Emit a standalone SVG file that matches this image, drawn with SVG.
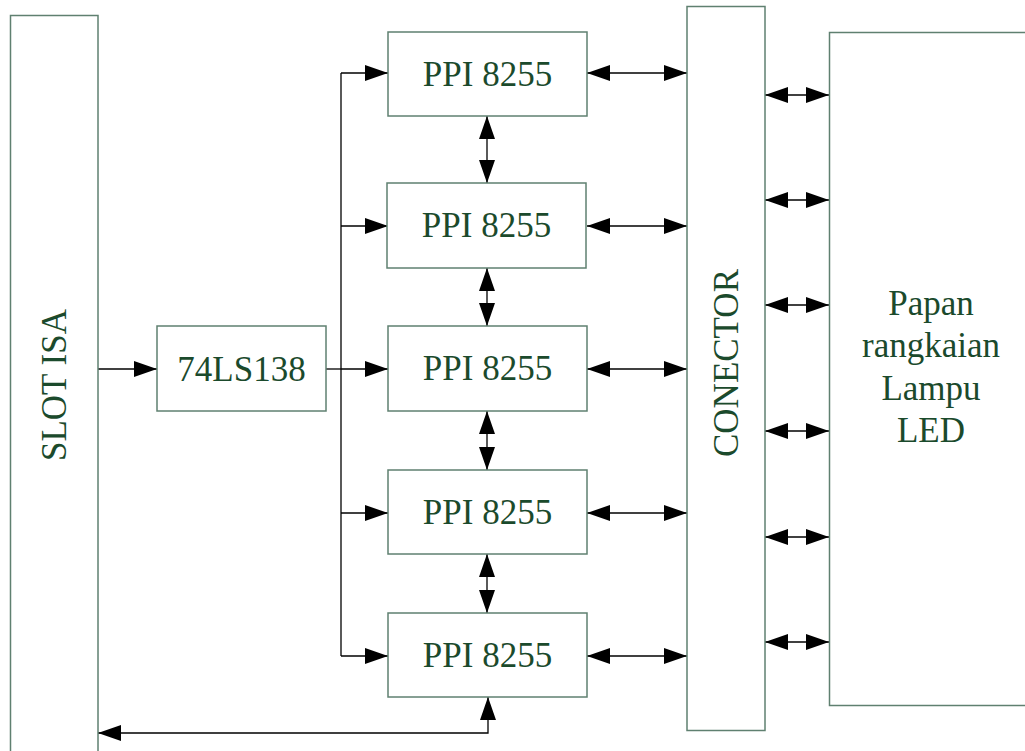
<svg xmlns="http://www.w3.org/2000/svg" width="1025" height="751" viewBox="0 0 1025 751">
<style>
.box{fill:#fff;stroke:#5f8070;stroke-width:1.5}
.t{font-family:"Liberation Serif","Times New Roman",serif;font-size:35px;fill:#1b4a2c;text-anchor:middle}
.c{fill:none;stroke:#000;stroke-width:1.3}
.a1{marker-end:url(#ah)}
.a2{marker-start:url(#ah);marker-end:url(#ah)}
</style>
<defs>
<marker id="ah" markerUnits="userSpaceOnUse" markerWidth="24" markerHeight="16" refX="23" refY="8" orient="auto-start-reverse" viewBox="0 0 24 16">
<path d="M0,0 L23,8 L0,16 z" fill="#000"/>
</marker>
</defs>
<rect width="1025" height="751" fill="#fff"/>
<g id="connectors">
<line class="c a1" x1="98" y1="369" x2="157" y2="369"/>
<polyline class="c" points="326,369 341,369"/>
<line class="c" x1="341" y1="73" x2="341" y2="656"/>
<line class="c a1" x1="341" y1="73" x2="388" y2="73"/>
<line class="c a1" x1="341" y1="226" x2="388" y2="226"/>
<line class="c a1" x1="341" y1="369" x2="388" y2="369"/>
<line class="c a1" x1="341" y1="513" x2="388" y2="513"/>
<line class="c a1" x1="341" y1="656" x2="388" y2="656"/>
<line class="c a2" x1="487" y1="116" x2="487" y2="183"/>
<line class="c a2" x1="487" y1="268" x2="487" y2="326"/>
<line class="c a2" x1="487" y1="411" x2="487" y2="470"/>
<line class="c a2" x1="487" y1="554" x2="487" y2="613"/>
<line class="c a2" x1="587" y1="73" x2="687" y2="73"/>
<line class="c a2" x1="587" y1="226" x2="687" y2="226"/>
<line class="c a2" x1="587" y1="369" x2="687" y2="369"/>
<line class="c a2" x1="587" y1="513" x2="687" y2="513"/>
<line class="c a2" x1="587" y1="656" x2="687" y2="656"/>
<line class="c a2" x1="765" y1="95" x2="829" y2="95"/>
<line class="c a2" x1="765" y1="200" x2="829" y2="200"/>
<line class="c a2" x1="765" y1="305" x2="829" y2="305"/>
<line class="c a2" x1="765" y1="431" x2="829" y2="431"/>
<line class="c a2" x1="765" y1="537" x2="829" y2="537"/>
<line class="c a2" x1="765" y1="642" x2="829" y2="642"/>
<polyline class="c a2" points="488,697 488,733 98,733"/>
</g>
<g id="slot-isa">
<rect class="box" x="10.5" y="15.5" width="87.5" height="760"/>
<text class="t" transform="translate(66,385) rotate(-90)">SLOT ISA</text>
</g>
<g id="decoder">
<rect class="box" x="157" y="326" width="169" height="85"/>
<text class="t" x="241.5" y="381">74LS138</text>
</g>
<g id="ppi1">
<rect class="box" x="388" y="32" width="199" height="84"/>
<text class="t" x="487.5" y="86">PPI 8255</text>
</g>
<g id="ppi2">
<rect class="box" x="387" y="183" width="199" height="85"/>
<text class="t" x="486.5" y="237">PPI 8255</text>
</g>
<g id="ppi3">
<rect class="box" x="388" y="326" width="199" height="85"/>
<text class="t" x="487.5" y="380">PPI 8255</text>
</g>
<g id="ppi4">
<rect class="box" x="388" y="470" width="199" height="84"/>
<text class="t" x="487.5" y="524">PPI 8255</text>
</g>
<g id="ppi5">
<rect class="box" x="388" y="613" width="199" height="84"/>
<text class="t" x="487.5" y="667">PPI 8255</text>
</g>
<g id="conector">
<rect class="box" x="687" y="6.5" width="78" height="724"/>
<text class="t" transform="translate(738,363) rotate(-90)">CONECTOR</text>
</g>
<g id="papan">
<rect class="box" x="829.5" y="32.5" width="220" height="673"/>
<text class="t" x="931" y="315">Papan</text>
<text class="t" x="931" y="357">rangkaian</text>
<text class="t" x="931" y="400">Lampu</text>
<text class="t" x="931" y="442">LED</text>
</g>
</svg>
